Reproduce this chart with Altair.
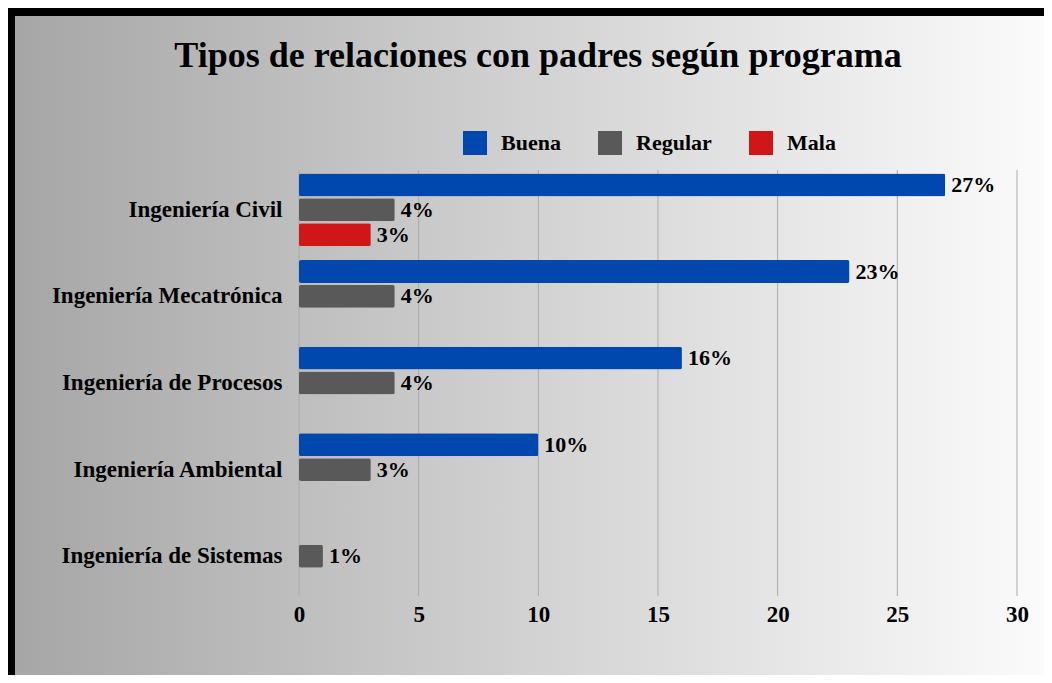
import altair as alt
import pandas as pd

programas = ["Ingeniería Civil", "Ingeniería Mecatrónica", "Ingeniería de Procesos",
             "Ingeniería Ambiental", "Ingeniería de Sistemas"]
tipos = ["Buena", "Regular", "Mala"]
buena = [27, 23, 16, 10, None]
regular = [4, 4, 4, 3, 1]
mala = [3, None, None, None, None]
colores = ["#0048ae", "#595959", "#d01616"]
ticks_x = [0, 5, 10, 15, 20, 25, 30]

rows = []
for i, p in enumerate(programas):
    for t, serie in zip(tipos, [buena, regular, mala]):
        if serie[i] is not None:
            rows.append({"programa": p, "tipo": t, "valor": serie[i],
                         "etiqueta": f"{serie[i]}%"})
df = pd.DataFrame(rows)

W, H = 718, 426
FONT = "Liberation Serif"

one = pd.DataFrame({"a": [0]})
bg_black = alt.Chart(one).mark_rect(color="#000000").encode(
    x=alt.value(-291), x2=alt.value(W + 27), y=alt.value(-162), y2=alt.value(H + 80))
grad = alt.LinearGradient(
    gradient="linear", x1=0, x2=1, y1=0, y2=0,
    stops=[alt.GradientStop(color="#a6a6a6", offset=0),
           alt.GradientStop(color="#d2d2d2", offset=0.5),
           alt.GradientStop(color="#fbfbfb", offset=1)])
bg_grad = alt.Chart(one).mark_rect(fill=grad).encode(
    x=alt.value(-284), x2=alt.value(W + 27), y=alt.value(-154), y2=alt.value(H + 80))

grid = alt.Chart(pd.DataFrame({"v": ticks_x})).mark_rule(
    color="#a9a9a9", strokeWidth=1).encode(
    x=alt.X("v:Q", scale=alt.Scale(domain=[0, 30])),
    y=alt.value(0), y2=alt.value(H))

base = alt.Chart(df).encode(
    y=alt.Y("programa:N", sort=programas, title=None,
            scale=alt.Scale(paddingInner=0.16, paddingOuter=0.04),
            axis=alt.Axis(labelFont=FONT, labelFontSize=23, labelFontWeight="bold",
                          labelColor="#000000", labelPadding=17, ticks=False,
                          domain=False, grid=False, zindex=2, labelLimit=400)),
    yOffset=alt.YOffset("tipo:N", scale=alt.Scale(domain=tipos, paddingInner=0.08)),
    x=alt.X("valor:Q", title=None, scale=alt.Scale(domain=[0, 30], nice=False),
            axis=alt.Axis(values=ticks_x, labelFont=FONT, labelFontSize=23,
                          labelFontWeight="bold", labelColor="#000000",
                          labelPadding=7, ticks=False, domain=False, grid=False,
                          labelFlush=False, zindex=2)),
)

bars = base.mark_bar(cornerRadius=2).encode(
    color=alt.Color("tipo:N", scale=alt.Scale(domain=tipos, range=colores), title=None,
                    legend=alt.Legend(orient="none", legendX=164, legendY=-39,
                                      direction="horizontal", symbolType="square",
                                      symbolSize=576, symbolStrokeWidth=0,
                                      labelFont=FONT, labelFontSize=22,
                                      labelFontWeight="bold", labelColor="#000000",
                                      labelOffset=14, columnPadding=37, padding=0,
                                      zindex=2))
)
labels = base.mark_text(align="left", baseline="middle", dx=6, font=FONT,
                        fontSize=22, fontWeight="bold", color="#000000").encode(
    text="etiqueta:N")

chart = alt.layer(bg_black, bg_grad, grid, bars, labels).properties(
    width=W, height=H,
    title=alt.TitleParams("Tipos de relaciones con padres según programa",
                          font=FONT, fontSize=36, fontWeight="bold", color="#000000",
                          anchor="middle", frame="group", dx=-120, offset=-67,
                          zindex=2),
    autosize=alt.AutoSizeParams(type="none"),
    padding={"left": 291, "top": 162, "right": 27, "bottom": 79},
    background="#ffffff",
).configure_view(stroke=None)

chart.save("out.html", embed_options={"renderer": "svg", "actions": False})
